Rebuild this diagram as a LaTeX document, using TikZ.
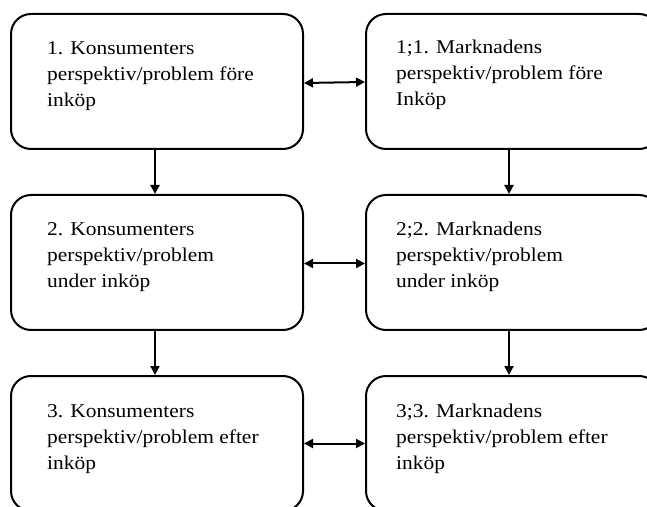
\documentclass[tikz,border=0pt]{standalone}
\usepackage{fontspec}
\setmainfont{Liberation Serif}[FakeStretch=1.1]
\usetikzlibrary{arrows.meta}

\tikzset{
  box/.style={draw, line width=2pt, rounded corners=20pt,
    minimum width=292pt, minimum height=135pt, inner sep=0pt},
  boxtext/.style={anchor=base west, inner sep=0pt,
    font=\fontsize{19.5}{26}\selectfont},
  tip/.style={Triangle[length=9pt,width=9pt]},
  flow/.style={line width=2pt, -{Triangle[length=9pt,width=9pt]}},
  both/.style={line width=2pt, {Triangle[length=9pt,width=9pt]}-{Triangle[length=9pt,width=9pt]}}
}
\newcommand{\lines}[1]{\begin{tabular}[t]{@{}l@{}}#1\end{tabular}}

\begin{document}
\begin{tikzpicture}[x=1pt,y=1pt]
  \useasboundingbox (0,0) rectangle (647,506);
  \clip (0,0) rectangle (647,506);

  % boxes: consumer side (left), market side (right)
  \node[box] (l1) at (157,424.5) {};
  \node[box, minimum width=293pt] (r1) at (512.5,424.5) {};
  \node[box] (l2) at (157,243.5) {};
  \node[box, minimum width=293pt] (r2) at (512.5,243.5) {};
  \node[box] (l3) at (157,62.5) {};
  \node[box, minimum width=293pt] (r3) at (512.5,62.5) {};

  % texts
  \node[boxtext] (t1) at (47,451) {\lines{1. Konsumenters\\perspektiv/problem före\\inköp}};
  \node[boxtext] (u1) at (396,452) {\lines{1;1. Marknadens\\perspektiv/problem före\\Inköp}};
  \node[boxtext] (t2) at (47,270) {\lines{2. Konsumenters\\perspektiv/problem\\under inköp}};
  \node[boxtext] (u2) at (396,270) {\lines{2;2. Marknadens\\perspektiv/problem\\under inköp}};
  \node[boxtext] (t3) at (47,89) {\lines{3. Konsumenters\\perspektiv/problem efter\\inköp}};
  \node[boxtext] (u3) at (396,89) {\lines{3;3. Marknadens\\perspektiv/problem efter\\inköp}};

  % vertical flow
  \draw[flow] ([xshift=-2pt]l1.south) -- ([xshift=-2pt]l2.north);
  \draw[flow] ([xshift=-2pt]l2.south) -- ([xshift=-2pt]l3.north);
  \draw[flow] ([xshift=-3.5pt]r1.south) -- ([xshift=-3.5pt]r2.north);
  \draw[flow] ([xshift=-3.5pt]r2.south) -- ([xshift=-3.5pt]r3.north);

  % links between the two sides
  \draw[both] ([yshift=-1.5pt]l1.east) -- ([yshift=-0.5pt]r1.west);
  \draw[both] ([yshift=-1pt]l2.east) -- ([yshift=-1pt]r2.west);
  \draw[both] ([yshift=0pt]l3.east) -- ([yshift=0pt]r3.west);
\end{tikzpicture}
\end{document}
